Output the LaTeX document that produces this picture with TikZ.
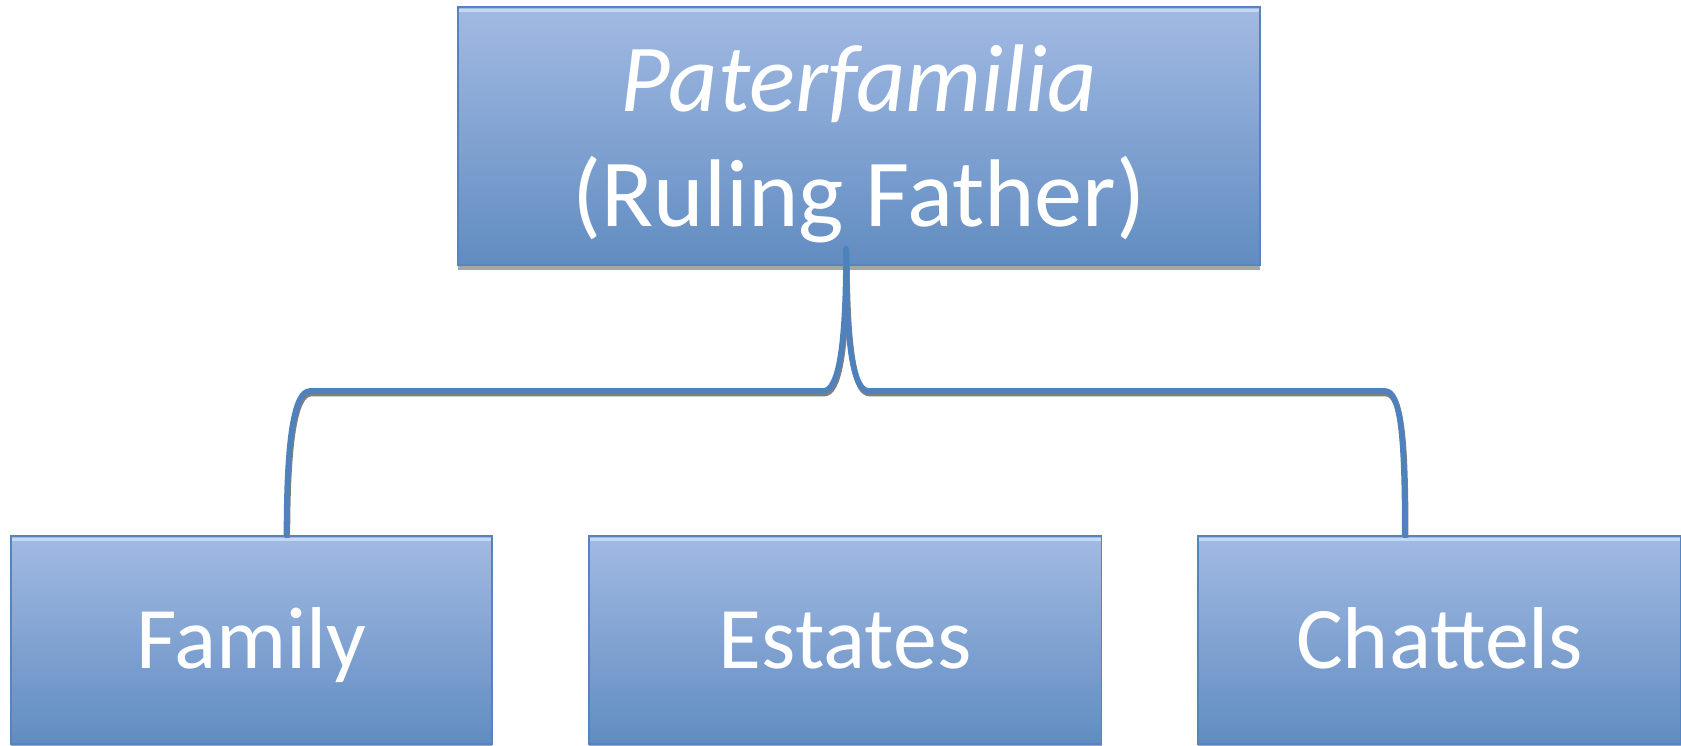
\documentclass[tikz,border=0pt]{standalone}
\usepackage{fontspec}
\setmainfont{Carlito}
\usetikzlibrary{positioning}
\usetikzlibrary{calc,shadows}

\definecolor{boxtop}{HTML}{A2BAE3}
\definecolor{boxbottom}{HTML}{618CC1}
\definecolor{boxline}{HTML}{5584BE}
\definecolor{boxshine}{HTML}{C4D8F8}
\definecolor{linkblue}{HTML}{4F81BD}
\definecolor{linkshade}{HTML}{7F7F7F}
\definecolor{boxshade}{HTML}{A6A6A6}

\begin{document}
\begin{tikzpicture}[
          x=0.02cm, y=-0.02cm,
          node distance=1.9cm and 1.9cm,
          mybox/.style={draw=boxline,line width=1pt,top color=boxtop,bottom color=boxbottom,
            text=white,align=center,inner sep=0pt,
            drop shadow={shadow xshift=0pt,shadow yshift=-3pt,fill=boxshade,opacity=1},
            path picture={\draw[boxshine,line width=2pt]
              ([yshift=-2pt]path picture bounding box.north west) --
              ([yshift=-2pt]path picture bounding box.north east);}},
          leaf/.style={minimum height=4.16cm,text height=36pt,text depth=4pt,
            font=\fontsize{50pt}{60pt}\selectfont},
          link/.style={draw=linkblue,line width=3.2pt,line cap=round,
            preaction={draw=linkshade,line width=3.2pt,
              transform canvas={shift={(0.5pt,-1.5pt)}}}}
          ]

          \useasboundingbox (0,0) rectangle (1681,746);

          \node[mybox,minimum width=16.04cm,minimum height=5.16cm,text depth=0pt,
            font=\fontsize{54.7pt}{65.5pt}\selectfont] (pater) at (859,136)
            {{\itshape Paterfamilia}\\(Ruling Father)};

          \node[mybox,leaf,minimum width=9.62cm] (family) at (251.5,640) {Family};
          \node[mybox,leaf,minimum width=10.26cm,right=of family] (estates) {Estates};
          \node[mybox,leaf,minimum width=9.66cm,right=of estates] (chattels) {Chattels};

          \coordinate (stem) at ($(pater.south)+(-13,-17)$);

          \draw[link] (stem) .. controls +(0,102) and +(15,0) .. (823,391)
            -- (310,391) .. controls +(-16,0) and +(0,-96) .. ($(family.north)+(35,0)$);
          \draw[link] (stem) .. controls +(0,102) and +(-15,0) .. (869,391)
            -- (1385,391) .. controls +(16,0) and +(0,-96) .. ($(chattels.north)+(-35,0)$);
        \end{tikzpicture}
\end{document}
